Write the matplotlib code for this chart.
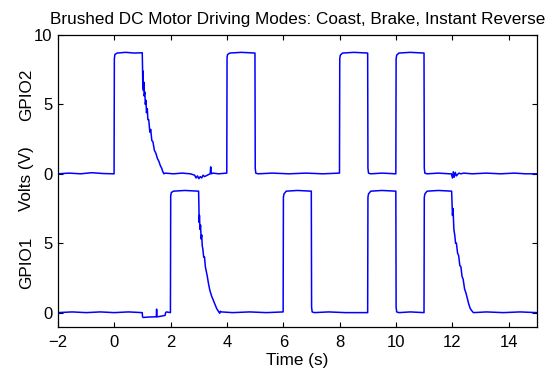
import numpy as np
import matplotlib
matplotlib.use("Agg")
import matplotlib.pyplot as plt

plt.rcParams["font.family"] = ["Liberation Sans", "DejaVu Sans"]
plt.rcParams["font.size"] = 12

# GPIO2 trace (upper), volts vs seconds
t_gpio2 = [-2.0, -1.6, -1.2, -0.8, -0.4, -0.01,
           0.0, 0.02, 0.1, 0.4, 0.7, 0.99,
           1.0, 1.01, 1.02, 1.03, 1.05, 1.06, 1.08, 1.10, 1.12, 1.14, 1.17, 1.19,
           1.22, 1.26, 1.29, 1.33, 1.37, 1.42, 1.47, 1.53, 1.58, 1.63, 1.68, 1.72, 1.76,
           1.8, 2.1, 2.4, 2.7, 2.85, 2.9, 2.95, 3.0, 3.05, 3.1, 3.15, 3.2, 3.3, 3.4,
           3.42, 3.44, 3.5, 3.7, 3.99,
           4.0, 4.02, 4.1, 4.5, 4.99,
           5.0, 5.02, 5.1, 5.6, 6.2, 6.8, 7.4, 7.99,
           8.0, 8.02, 8.1, 8.5, 8.99,
           9.0, 9.02, 9.1, 9.5, 9.99,
           10.0, 10.02, 10.1, 10.5, 10.99,
           11.0, 11.02, 11.1, 11.5, 11.9, 11.96, 12.0, 12.03, 12.06, 12.1, 12.14,
           12.18, 12.23, 12.3, 12.4, 12.7, 13.2, 13.7, 14.2, 14.6, 15.0]
v_gpio2 = [0.0, 0.05, 0.0, 0.08, 0.02, 0.0,
           8.3, 8.6, 8.7, 8.75, 8.7, 8.72,
           7.7, 6.2, 7.4, 6.0, 6.6, 5.6, 5.9, 5.0, 5.3, 4.4, 4.7, 3.9,
           3.9, 3.0, 3.2, 2.4, 2.3, 1.7, 1.5, 1.1, 0.9, 0.6, 0.4, 0.15, 0.0,
           0.05, 0.0, 0.05, 0.0, -0.1, -0.3, -0.15, -0.35, -0.2, -0.3, -0.1, -0.2, -0.1, 0.0,
           0.5, 0.0, 0.05, 0.0, 0.05,
           8.4, 8.6, 8.7, 8.75, 8.7,
           0.4, 0.05, 0.0, 0.05, 0.0, 0.05, 0.0, 0.05,
           8.3, 8.55, 8.7, 8.75, 8.7,
           0.4, 0.05, 0.0, 0.05, 0.0,
           8.3, 8.55, 8.7, 8.75, 8.7,
           0.4, 0.05, 0.0, 0.05, 0.0, 0.0, -0.3, 0.15, -0.25, 0.1, -0.15,
           -0.05, 0.05, 0.0, 0.05, 0.0, 0.05, 0.0, 0.05, 0.0, 0.0]

# GPIO1 trace (lower)
t_gpio1 = [-2.0, -1.5, -1.0, -0.5, 0.0, 0.5, 0.99,
           1.0, 1.02, 1.2, 1.45, 1.49, 1.5, 1.51, 1.6, 1.8, 1.82, 1.85, 1.99,
           2.0, 2.02, 2.1, 2.5, 2.99,
           3.0, 3.01, 3.02, 3.04, 3.06, 3.08, 3.1, 3.12, 3.14, 3.17, 3.2, 3.23,
           3.26, 3.3, 3.34, 3.39, 3.45, 3.51, 3.57, 3.63, 3.69, 3.74, 3.76, 3.8,
           4.2, 4.8, 5.4, 5.99,
           6.0, 6.02, 6.1, 6.5, 6.99,
           7.0, 7.02, 7.1, 7.6, 8.2, 8.99,
           9.0, 9.02, 9.1, 9.5, 9.99,
           10.0, 10.02, 10.1, 10.5, 10.99,
           11.0, 11.02, 11.1, 11.5, 11.97,
           12.0, 12.02, 12.05, 12.08, 12.11, 12.14, 12.18, 12.22, 12.26, 12.3,
           12.34, 12.38, 12.43, 12.48, 12.53, 12.58, 12.63, 12.68, 12.72, 12.75,
           13.2, 13.8, 14.4, 15.0]
v_gpio1 = [0.0, 0.05, 0.0, 0.05, 0.0, 0.05, 0.0,
           -0.3, -0.35, -0.32, -0.3, -0.3, 0.25, -0.3, -0.28, -0.2, 0.0, 0.05, 0.0,
           8.4, 8.65, 8.75, 8.8, 8.75,
           7.8, 6.5, 7.0, 6.0, 6.3, 5.3, 5.6, 4.8, 4.6, 4.0, 4.0, 3.3,
           3.0, 2.6, 2.1, 1.6, 1.2, 0.9, 0.6, 0.3, 0.1, -0.05, 0.1, 0.05,
           0.0, 0.05, 0.0, 0.05,
           8.3, 8.55, 8.75, 8.8, 8.75,
           0.4, 0.05, 0.0, 0.05, 0.0, 0.0,
           8.3, 8.55, 8.75, 8.8, 8.75,
           0.4, 0.05, 0.0, 0.05, 0.0,
           8.3, 8.55, 8.75, 8.8, 8.75,
           7.0, 7.5, 6.0, 5.6, 5.0, 5.0, 4.3, 4.1, 3.4, 3.3,
           2.6, 2.4, 1.7, 1.4, 1.0, 0.6, 0.3, 0.15, 0.05, 0.0,
           0.05, 0.0, 0.05, 0.0]

y_ticks = [0, 5, 10, 15, 20]
y_tick_labels = ["0", "5", "0", "5", "10"]
x_ticks = [-2, 0, 2, 4, 6, 8, 10, 12, 14]

GPIO2_OFFSET = 10  # upper trace is stacked above the lower one

fig = plt.figure(figsize=(5.55, 3.68), dpi=100)
ax = fig.add_axes([58 / 555, 1 - 326.5 / 368, (537 - 58) / 555, (326.5 - 35) / 368])

ax.plot(t_gpio1, v_gpio1, color="#0000ff", lw=1.1)
ax.plot(t_gpio2, np.array(v_gpio2) + GPIO2_OFFSET, color="#0000ff", lw=1.1)

ax.set_xlim(-2, 15)
ax.set_ylim(-1, 20)
ax.set_xticks(x_ticks)
ax.set_yticks(y_ticks)
ax.set_yticklabels(y_tick_labels)
ax.tick_params(direction="in", top=True, right=True, length=3.5, width=0.8,
               labelsize=12, pad=4)
ax.tick_params(axis="x", pad=6)
for sp in ax.spines.values():
    sp.set_linewidth(0.9)

ax.set_title("Brushed DC Motor Driving Modes: Coast, Brake, Instant Reverse",
             fontsize=12.3, pad=8)
ax.set_xlabel("Time (s)", fontsize=12.3, labelpad=2)

# stacked y labels
fig.text(27 / 555, 1 - 95 / 368, "GPIO2", rotation=90, ha="center", va="center", fontsize=12.3)
fig.text(27 / 555, 1 - 179 / 368, "Volts (V)", rotation=90, ha="center", va="center", fontsize=12.3)
fig.text(27 / 555, 1 - 263 / 368, "GPIO1", rotation=90, ha="center", va="center", fontsize=12.3)

fig.savefig("out.png", dpi=100)
